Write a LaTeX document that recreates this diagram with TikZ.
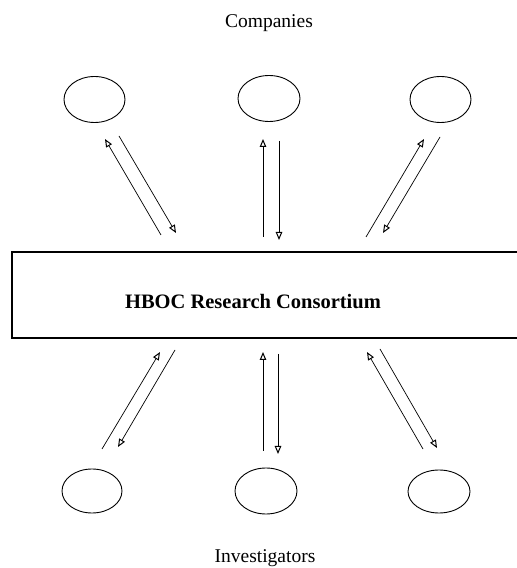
\documentclass[tikz,border=0pt]{standalone}
\usepackage{fontspec}
\setmainfont{Liberation Serif}
\usetikzlibrary{shapes.geometric,arrows.meta}
\begin{document}
\begin{tikzpicture}[x=1pt,y=1pt,
  party/.style={draw,ellipse,line width=0.9pt,inner sep=0pt,minimum width=61pt,minimum height=46pt},
  hub/.style={draw,line width=1.3pt,inner sep=0pt,minimum width=507pt,minimum height=86pt},
  flow/.style={line width=0.7pt,-{Triangle[open,length=8pt,width=6.5pt,line width=1pt]}},
  caption/.style={font=\fontsize{19.5}{22}\selectfont,anchor=base}]
\useasboundingbox (0,0) rectangle (517,568);
% labels
\node[caption] (comp) at (269,540) {Companies};
\node[caption] (inv) at (265,5.5) {Investigators};
% companies
\node[party] (c1) at (94.5,468.5) {};
\node[party,minimum width=62pt] (c2) at (269,469.5) {};
\node[party] (c3) at (440.5,468.5) {};
% consortium
\node[hub] (hb) at (265.5,273) {};
\node[font=\bfseries\fontsize{20.5}{24}\selectfont] (hbt) at (253,266.5) {HBOC Research Consortium};
% investigators
\node[party,minimum width=60pt,minimum height=44pt] (i1) at (92,77) {};
\node[party,minimum width=62pt] (i2) at (266,77) {};
\node[party,minimum width=62pt,minimum height=43pt] (i3) at (439,76.5) {};
% arrow end points
\coordinate (a1) at (161,333); \coordinate (a2) at (105,429);
\coordinate (a3) at (119,432); \coordinate (a4) at (176,335);
\coordinate (b1) at (263,331); \coordinate (b2) at (263,429);
\coordinate (b3) at (279,427); \coordinate (b4) at (279,328);
\coordinate (d1) at (366,331); \coordinate (d2) at (424,429);
\coordinate (d3) at (440,431); \coordinate (d4) at (383,335);
\coordinate (e1) at (102,119); \coordinate (e2) at (160,216);
\coordinate (e3) at (175,218); \coordinate (e4) at (118,121);
\coordinate (f1) at (263,117); \coordinate (f2) at (263,216);
\coordinate (f3) at (278,214); \coordinate (f4) at (278,114);
\coordinate (g1) at (423,119); \coordinate (g2) at (367,216);
\coordinate (g3) at (380,219); \coordinate (g4) at (437,120);
\draw[flow] (a1) -- (a2); \draw[flow] (a3) -- (a4);
\draw[flow] (b1) -- (b2); \draw[flow] (b3) -- (b4);
\draw[flow] (d1) -- (d2); \draw[flow] (d3) -- (d4);
\draw[flow] (e1) -- (e2); \draw[flow] (e3) -- (e4);
\draw[flow] (f1) -- (f2); \draw[flow] (f3) -- (f4);
\draw[flow] (g1) -- (g2); \draw[flow] (g3) -- (g4);
\end{tikzpicture}
\end{document}
